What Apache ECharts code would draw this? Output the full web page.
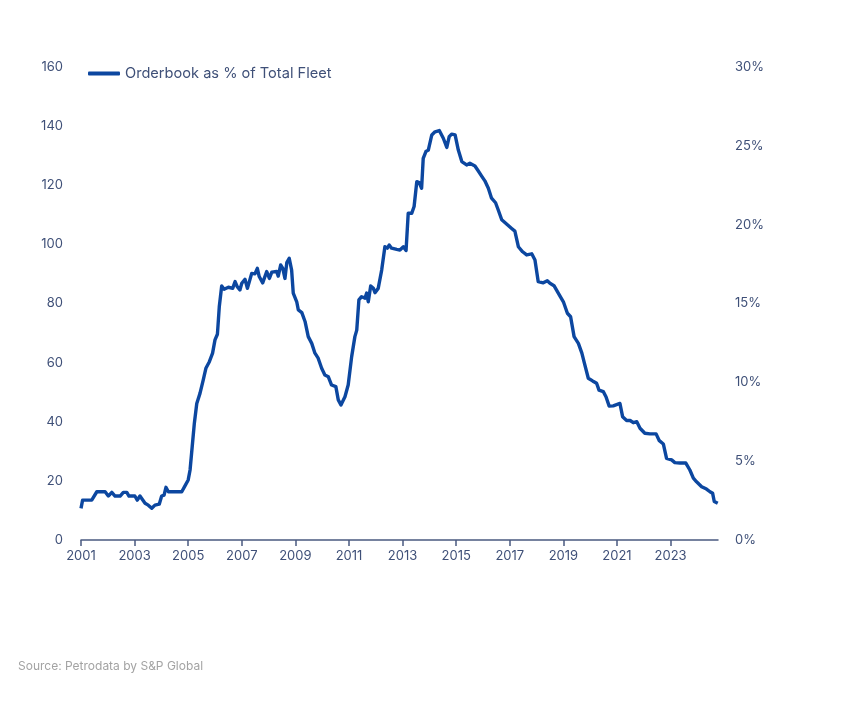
<!DOCTYPE html>
<html>
<head>
<meta charset="utf-8">
<script src="https://cdn.jsdelivr.net/npm/echarts@6/dist/echarts.min.js"></script>
<style>
html,body{margin:0;padding:0;background:#fff;}
#c{width:843px;height:714px;}
</style>
</head>
<body>
<div id="c"></div>
<script>
var seriesName = 'Orderbook as % of Total Fleet';
var xTickYears = [2001,2003,2005,2007,2009,2011,2013,2015,2017,2019,2021,2023];
var leftTicks = [0,20,40,60,80,100,120,140,160];
var rightTicks = [0,5,10,15,20,25,30];
var years = [2001.00,2001.06,2001.40,2001.59,2001.90,2002.02,2002.15,2002.27,2002.46,2002.58,2002.71,2002.79,2003.01,2003.10,2003.20,2003.39,2003.51,2003.64,2003.76,2003.92,2004.01,2004.10,2004.17,2004.26,2004.76,2004.88,2005.00,2005.07,2005.15,2005.23,2005.32,2005.44,2005.56,2005.66,2005.79,2005.91,2006.00,2006.09,2006.16,2006.25,2006.34,2006.50,2006.66,2006.75,2006.83,2006.93,2007.00,2007.12,2007.21,2007.37,2007.49,2007.58,2007.65,2007.78,2007.93,2008.03,2008.12,2008.30,2008.36,2008.45,2008.53,2008.61,2008.68,2008.77,2008.86,2008.92,2009.05,2009.11,2009.24,2009.36,2009.48,2009.61,2009.73,2009.85,2009.98,2010.10,2010.23,2010.35,2010.51,2010.60,2010.70,2010.85,2010.97,2011.10,2011.22,2011.29,2011.37,2011.47,2011.60,2011.66,2011.72,2011.81,2011.91,2011.97,2012.09,2012.22,2012.34,2012.43,2012.50,2012.59,2012.78,2012.90,2013.03,2013.13,2013.21,2013.34,2013.43,2013.53,2013.62,2013.71,2013.77,2013.87,2013.96,2014.09,2014.21,2014.37,2014.52,2014.65,2014.74,2014.83,2014.96,2015.08,2015.21,2015.39,2015.51,2015.70,2015.82,2015.95,2016.07,2016.20,2016.32,2016.47,2016.57,2016.70,2016.88,2017.07,2017.19,2017.32,2017.48,2017.63,2017.82,2017.94,2018.06,2018.25,2018.40,2018.50,2018.65,2018.81,2019.00,2019.15,2019.27,2019.40,2019.56,2019.69,2019.77,2019.93,2020.09,2020.24,2020.33,2020.49,2020.59,2020.71,2020.86,2021.11,2021.21,2021.36,2021.49,2021.61,2021.74,2021.86,2022.04,2022.23,2022.46,2022.58,2022.73,2022.85,2023.04,2023.16,2023.35,2023.57,2023.72,2023.85,2023.97,2024.16,2024.34,2024.47,2024.57,2024.63,2024.76];
var pctValues = [2.01,2.53,2.53,3.06,3.06,2.79,3.02,2.79,2.79,3.02,3.02,2.79,2.79,2.53,2.79,2.33,2.21,2.01,2.21,2.27,2.79,2.85,3.34,3.06,3.06,3.43,3.81,4.44,5.93,7.41,8.66,9.30,10.14,10.89,11.31,11.85,12.69,13.05,14.79,16.11,15.90,16.03,15.96,16.39,16.07,15.86,16.28,16.54,15.96,16.91,16.88,17.23,16.71,16.31,17.03,16.59,16.99,17.03,16.74,17.44,17.23,16.59,17.59,17.87,17.12,15.66,15.11,14.59,14.42,13.86,12.90,12.47,11.85,11.53,10.89,10.46,10.35,9.83,9.73,8.89,8.57,9.09,9.83,11.63,12.90,13.31,15.23,15.43,15.34,15.66,15.11,16.11,15.96,15.69,15.96,17.12,18.60,18.51,18.71,18.51,18.43,18.39,18.60,18.36,20.72,20.72,21.15,22.73,22.67,22.31,24.21,24.64,24.73,25.69,25.89,25.97,25.48,24.90,25.58,25.74,25.69,24.73,24.00,23.79,23.89,23.72,23.42,23.08,22.78,22.31,21.68,21.39,20.93,20.31,20.04,19.76,19.59,18.60,18.28,18.08,18.15,17.76,16.39,16.31,16.44,16.28,16.13,15.66,15.11,14.38,14.16,12.90,12.47,11.85,11.31,10.26,10.09,9.94,9.51,9.41,9.09,8.49,8.51,8.66,7.82,7.58,7.58,7.44,7.50,7.09,6.77,6.73,6.73,6.30,6.09,5.18,5.08,4.91,4.88,4.88,4.44,3.92,3.69,3.38,3.23,3.06,2.96,2.44,2.33];

var data = years.map(function(y,i){return [y, pctValues[i]];});
var labelColor = '#3f5078';
var fontFam = 'Inter, "Noto Sans", sans-serif';

var chart = echarts.init(document.getElementById('c'), null, {renderer:'canvas'});
chart.setOption({
  backgroundColor:'#ffffff',
  animation:false,
  grid:{left:81, right:125, top:67, bottom:174, containLabel:false},
  legend:{
    data:[seriesName], left:83, top:61, icon:'roundRect', itemWidth:32, itemHeight:4,
    textStyle:{color:labelColor, fontSize:14.6, fontFamily:fontFam}
  },
  graphic:[{type:'text', left:18, top:660, style:{text:'Source: Petrodata by S&P Global', fill:'#a3a3a3', fontSize:12, fontFamily:fontFam}}],
  xAxis:{
    type:'value', min:2001, max:2024.77,
    splitLine:{show:false},
    axisLine:{show:true, lineStyle:{color:'#4a5a80', width:1.5}},
    axisTick:{show:true, customValues:xTickYears, length:6, lineStyle:{color:'#4a5a80', width:1.5}},
    axisLabel:{customValues:xTickYears, color:labelColor, fontSize:13, fontFamily:fontFam, margin:10, formatter:function(v){return String(v);}}
  },
  yAxis:[
    {type:'value', min:0, max:160, interval:20, position:'left',
     splitLine:{show:false}, axisLine:{show:false}, axisTick:{show:false},
     axisLabel:{color:labelColor, fontSize:13, fontFamily:fontFam, margin:18}},
    {type:'value', min:0, max:30, interval:5, position:'right',
     splitLine:{show:false}, axisLine:{show:false}, axisTick:{show:false},
     axisLabel:{color:labelColor, fontSize:13, fontFamily:fontFam, margin:17, formatter:'{value}%'}}
  ],
  series:[{
    name:seriesName, type:'line', yAxisIndex:1, data:data,
    showSymbol:false, symbol:'none',
    lineStyle:{color:'#0c47a0', width:3.4, join:'round'},
    itemStyle:{color:'#0c47a0'}
  }]
});
</script>
</body>
</html>
